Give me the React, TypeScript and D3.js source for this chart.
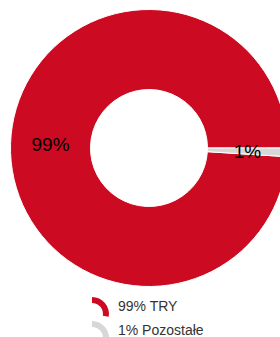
import { useEffect, useRef } from 'react';
import * as d3 from 'd3';

const categories = ['TRY', 'Pozostałe'];
const values = [99, 1];
const colors = ['#cc0a22', '#d7d7d7'];

const App = () => {
  const svgRef = useRef<SVGSVGElement>(null);

  useEffect(() => {
    if (!svgRef.current) return;
    const width = 280;
    const height = 337;
    const svg = d3.select(svgRef.current).attr('width', width).attr('height', height);
    svg.selectAll('*').remove();

    const total = d3.sum(values);
    const data = categories.map((c, i) => ({ name: c, value: values[i], color: colors[i] }));

    const cx = 149;
    const cy = 148;
    const outer = 138.5;
    const inner = 58.5;

    // smallest slice first, starting at 3 o'clock
    const pie = d3
      .pie<{ name: string; value: number; color: string }>()
      .value((d) => d.value)
      .sort((a, b) => a.value - b.value)
      .startAngle(Math.PI / 2)
      .endAngle(Math.PI / 2 + 2 * Math.PI);

    const arc = d3
      .arc<d3.PieArcDatum<{ name: string; value: number; color: string }>>()
      .innerRadius(inner)
      .outerRadius(outer);

    const g = svg.append('g').attr('transform', `translate(${cx},${cy})`);
    const arcs = pie(data);

    g.selectAll('path')
      .data(arcs)
      .join('path')
      .attr('d', arc)
      .attr('fill', (d) => d.data.color)
      .attr('stroke', '#fff')
      .attr('stroke-width', 1);

    g.selectAll('text')
      .data(arcs)
      .join('text')
      .attr('transform', (d) => `translate(${arc.centroid(d)})`)
      .attr('text-anchor', 'middle')
      .attr('dominant-baseline', 'central')
      .attr('font-family', 'Liberation Sans, Arial, sans-serif')
      .attr('font-size', 19)
      .attr('fill', '#000')
      .text((d) => `${Math.round((d.data.value / total) * 100)}%`);

    // legend
    const iconArc = d3.arc();
    const legend = svg
      .append('g')
      .selectAll('g')
      .data(data)
      .join('g')
      .attr('transform', (_, i) => `translate(92,${314 + i * 24})`);

    legend
      .append('path')
      .attr('d', () => iconArc({ innerRadius: 11, outerRadius: 17, startAngle: 0, endAngle: Math.PI * 0.55 } as any))
      .attr('fill', (d) => d.color);

    legend
      .append('text')
      .attr('x', 26)
      .attr('y', -3)
      .attr('font-family', 'Liberation Sans, Arial, sans-serif')
      .attr('font-size', 14)
      .attr('fill', '#333')
      .text((d) => `${Math.round((d.value / total) * 100)}% ${d.name}`);
  }, []);

  return <svg ref={svgRef} style={{ position: 'absolute', left: 0, top: 0 }}></svg>;
};

export default App;
